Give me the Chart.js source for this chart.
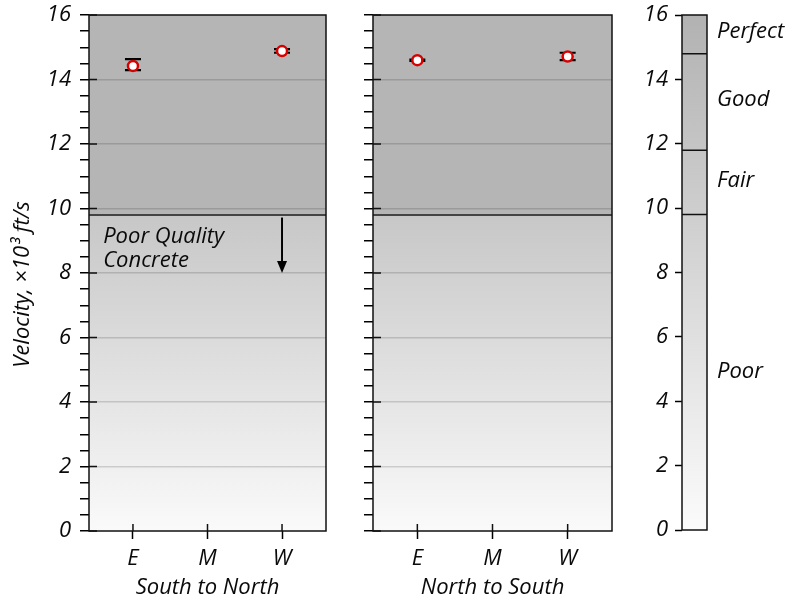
<!DOCTYPE html>
<html>
<head>
<meta charset="utf-8">
<script src="https://cdn.jsdelivr.net/npm/chart.js@4.4.1/dist/chart.umd.min.js"></script>
<style>
  html, body { margin: 0; padding: 0; background: #fff; }
  #wrap { position: relative; width: 790px; height: 600px; }
  canvas { position: absolute; top: 0; }
</style>
</head>
<body>
<div id="wrap">
  <canvas id="sn" style="left:0px" width="345" height="600"></canvas>
  <canvas id="ns" style="left:345px" width="280" height="600"></canvas>
  <canvas id="band" style="left:625px" width="165" height="600"></canvas>
</div>
<script>
// locations along each direction
const categories = ['E', 'M', 'W'];

// South to North: mean and error bar ends (x10^3 ft/s)
const snMean = [14.42, null, 14.88];
const snLow = [14.29, null, 14.83];
const snHigh = [14.63, null, 14.94];

// North to South
const nsMean = [14.60, null, 14.71];
const nsLow = [14.58, null, 14.60];
const nsHigh = [14.62, null, 14.83];

// quality scale
const poorLimit = 9.8;
const bandEdges = [9.8, 11.8, 14.8];
const bandLabels = ['Poor', 'Fair', 'Good', 'Perfect'];
const bandLabelAt = [4.93, 10.85, 13.36, 15.47];
const yTicks = [0, 2, 4, 6, 8, 10, 12, 14, 16];

const FONT = 'Open Sans';
Chart.defaults.font = { family: FONT, style: 'italic', size: 22 };
Chart.defaults.color = '#0a0a0a';

const isMajor = (v) => Math.abs(v % 2) < 1e-9;

function points(means) {
  return means.map((v, i) => (v == null ? null : { x: i, y: v })).filter(Boolean);
}

function noPadY(s, w) {
  s.width = w;
  s.paddingTop = 0;
  s.paddingBottom = 0;
}

// grey background, threshold line, frame and inner tick marks
const panelDeco = {
  id: 'panelDeco',
  beforeDraw(chart) {
    const { ctx, chartArea: a, scales: { y } } = chart;
    const yT = y.getPixelForValue(poorLimit);
    ctx.save();
    ctx.fillStyle = '#b5b5b5';
    ctx.fillRect(a.left, a.top, a.width, yT - a.top);
    const g = ctx.createLinearGradient(0, yT, 0, a.bottom);
    g.addColorStop(0, '#c7c7c7');
    g.addColorStop(1, '#fafafa');
    ctx.fillStyle = g;
    ctx.fillRect(a.left, yT, a.width, a.bottom - yT);
    ctx.restore();
  },
  beforeDatasetsDraw(chart) {
    const { ctx, chartArea: a, scales: { x, y } } = chart;
    ctx.save();
    // threshold
    ctx.strokeStyle = '#444';
    ctx.lineWidth = 2;
    const yT = y.getPixelForValue(poorLimit);
    ctx.beginPath();
    ctx.moveTo(a.left, yT);
    ctx.lineTo(a.right, yT);
    ctx.stroke();
    // frame
    ctx.strokeStyle = '#111';
    ctx.lineWidth = 1.5;
    ctx.strokeRect(a.left, a.top, a.width, a.height);
    // inner halves of major ticks
    ctx.beginPath();
    yTicks.forEach((v) => {
      const py = y.getPixelForValue(v);
      ctx.moveTo(a.left, py);
      ctx.lineTo(a.left + 8, py);
    });
    categories.forEach((c, i) => {
      const px = x.getPixelForValue(i);
      ctx.moveTo(px, a.bottom);
      ctx.lineTo(px, a.bottom - 7);
    });
    ctx.stroke();
    ctx.restore();
  }
};

function errorBars(means, lows, highs) {
  return {
    id: 'errorBars',
    beforeDatasetsDraw(chart) {
      const { ctx, scales: { x, y } } = chart;
      ctx.save();
      ctx.strokeStyle = '#000';
      ctx.lineWidth = 2.2;
      means.forEach((m, i) => {
        if (m == null) return;
        const px = x.getPixelForValue(i);
        const top = y.getPixelForValue(highs[i]);
        const bot = y.getPixelForValue(lows[i]);
        ctx.beginPath();
        ctx.moveTo(px, top); ctx.lineTo(px, bot);
        ctx.moveTo(px - 8, top); ctx.lineTo(px + 8, top);
        ctx.moveTo(px - 8, bot); ctx.lineTo(px + 8, bot);
        ctx.stroke();
      });
      ctx.restore();
    }
  };
}

// "Poor Quality Concrete" note with arrow
const poorNote = {
  id: 'poorNote',
  afterDatasetsDraw(chart) {
    const { ctx, scales: { x, y } } = chart;
    const ax = x.getPixelForValue(2);
    const y0 = y.getPixelForValue(9.72);
    const y1 = y.getPixelForValue(8.0);
    ctx.save();
    ctx.strokeStyle = '#000';
    ctx.fillStyle = '#000';
    ctx.lineWidth = 2;
    ctx.beginPath();
    ctx.moveTo(ax, y0);
    ctx.lineTo(ax, y1 - 10);
    ctx.stroke();
    ctx.beginPath();
    ctx.moveTo(ax - 5, y1 - 12);
    ctx.lineTo(ax + 5, y1 - 12);
    ctx.lineTo(ax, y1);
    ctx.closePath();
    ctx.fill();
    ctx.fillStyle = '#0a0a0a';
    ctx.font = 'italic 22px ' + FONT;
    ctx.textAlign = 'left';
    ctx.textBaseline = 'middle';
    const tx = x.getPixelForValue(-0.4);
    ctx.fillText('Poor Quality', tx, y.getPixelForValue(9.13));
    ctx.fillText('Concrete', tx, y.getPixelForValue(8.38));
    ctx.restore();
  }
};

function panel(id, means, lows, highs, opts) {
  const plugins = [panelDeco, errorBars(means, lows, highs)];
  if (opts.note) plugins.push(poorNote);
  return new Chart(document.getElementById(id), {
    type: 'scatter',
    data: {
      datasets: [{
        data: points(means),
        pointRadius: 5,
        pointBorderWidth: 2.5,
        pointBorderColor: '#d80000',
        pointBackgroundColor: '#fff',
        pointHoverRadius: 5
      }]
    },
    options: {
      responsive: false,
      animation: false,
      layout: { padding: { top: 15, right: opts.right, left: 0, bottom: 0 } },
      plugins: { legend: { display: false }, tooltip: { enabled: false } },
      scales: {
        x: {
          type: 'linear',
          min: -0.59,
          max: 2.59,
          afterBuildTicks: (s) => { s.ticks = categories.map((c, i) => ({ value: i })); },
          afterFit: (s) => { s.height = 69; s.paddingLeft = 0; s.paddingRight = 0; },
          ticks: { callback: (v) => categories[v], padding: 7, autoSkip: false, maxRotation: 0 },
          grid: { drawOnChartArea: false, tickColor: '#000', tickLength: 8, tickWidth: 1.5 },
          border: { display: false },
          title: { display: true, text: opts.xTitle, padding: { top: 0, bottom: -1 } }
        },
        y: {
          min: 0,
          max: 16,
          afterFit: (s) => noPadY(s, opts.yWidth),
          ticks: {
            stepSize: 0.5,
            autoSkip: false,
            padding: 9,
            callback: (v) => (opts.yLabels && isMajor(v) ? v : '')
          },
          grid: {
            color: (c) => (isMajor(c.tick.value) && c.tick.value > 0 && c.tick.value < 16 ? 'rgba(0,0,0,0.15)' : 'rgba(0,0,0,0)'),
            lineWidth: 1.5,
            tickColor: '#000',
            tickWidth: 1.5,
            tickLength: 9
          },
          border: { display: false },
          title: {
            display: !!opts.yTitle,
            text: opts.yTitle || '',
            padding: { top: 10, bottom: 0 }
          }
        }
      }
    },
    plugins
  });
}

panel('sn', snMean, snLow, snHigh, {
  xTitle: 'South to North', yWidth: 89, right: 19, yLabels: true,
  yTitle: 'Velocity, \u00d710\u00b3 ft/s    ', note: true
});
panel('ns', nsMean, nsLow, nsHigh, {
  xTitle: 'North to South', yWidth: 28, right: 13, yLabels: false
});

// quality colour bar
const bandDeco = {
  id: 'bandDeco',
  beforeDraw(chart) {
    const { ctx, chartArea: a } = chart;
    ctx.save();
    const g = ctx.createLinearGradient(0, a.top, 0, a.bottom);
    g.addColorStop(0, '#b2b2b2');
    g.addColorStop(1, '#fbfbfb');
    ctx.fillStyle = g;
    ctx.fillRect(a.left, a.top, a.width, a.height);
    ctx.restore();
  },
  afterDraw(chart) {
    const { ctx, chartArea: a, scales: { y } } = chart;
    ctx.save();
    ctx.strokeStyle = '#111';
    ctx.lineWidth = 1.5;
    ctx.beginPath();
    bandEdges.forEach((v) => {
      const py = y.getPixelForValue(v);
      ctx.moveTo(a.left, py);
      ctx.lineTo(a.right, py);
    });
    ctx.stroke();
    ctx.strokeRect(a.left, a.top, a.width, a.height);
    ctx.restore();
  }
};

new Chart(document.getElementById('band'), {
  type: 'scatter',
  data: { datasets: [] },
  options: {
    responsive: false,
    animation: false,
    layout: { padding: { top: 15, bottom: 70, left: 0, right: 0 } },
    plugins: { legend: { display: false }, tooltip: { enabled: false } },
    scales: {
      x: { display: false, min: 0, max: 1 },
      y: {
        min: 0,
        max: 16,
        afterFit: (s) => noPadY(s, 57),
        afterBuildTicks: (s) => { s.ticks = yTicks.map((v) => ({ value: v })); },
        ticks: { padding: 7, autoSkip: false },
        grid: { drawOnChartArea: false, tickColor: '#000', tickLength: 7, tickWidth: 1.5 },
        border: { display: false }
      },
      yBand: {
        position: 'right',
        min: 0,
        max: 16,
        afterFit: (s) => noPadY(s, 83),
        afterBuildTicks: (s) => { s.ticks = bandLabelAt.map((v) => ({ value: v })); },
        ticks: { padding: 10, autoSkip: false, callback: (v, i) => bandLabels[i] },
        grid: { display: false, drawTicks: false },
        border: { display: false }
      }
    }
  },
  plugins: [bandDeco]
});
</script>
</body>
</html>
